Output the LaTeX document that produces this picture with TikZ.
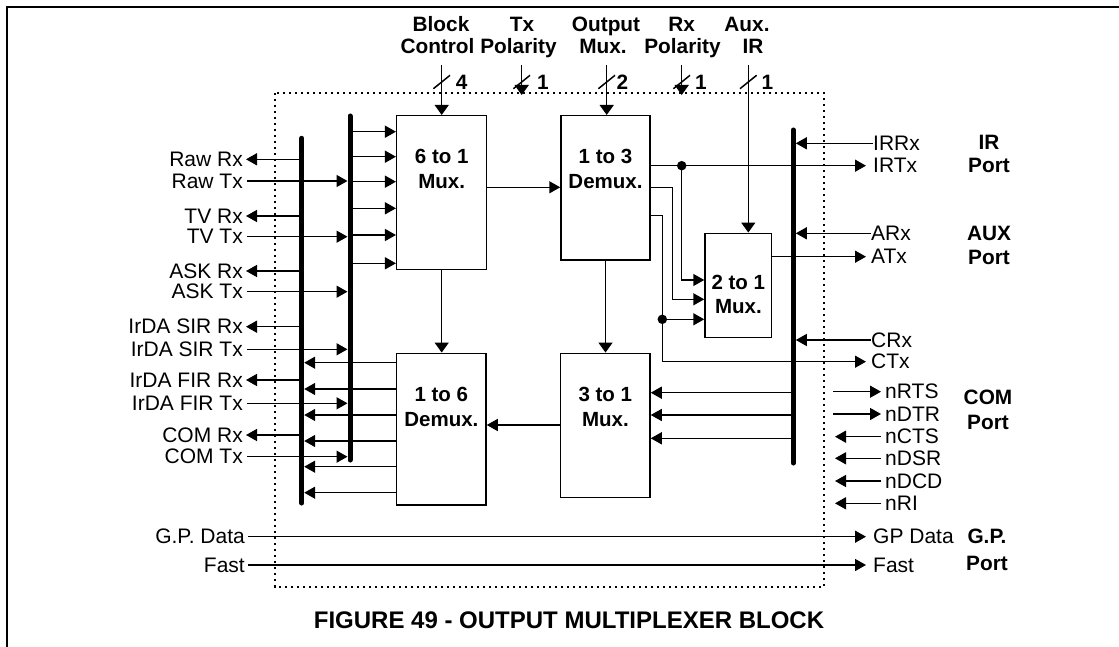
\documentclass[tikz,border=0pt]{standalone}
\usepackage{fontspec}
\setmainfont{Liberation Sans}
\usetikzlibrary{arrows.meta,calc}
\begin{document}
\begin{tikzpicture}[x=1pt,y=-1pt,
  ln/.style={line width=1.5pt},
  arr/.style={line width=1.5pt,-{Triangle[length=11pt,width=12pt]}},
  varr/.style={line width=1.5pt,-{Triangle[length=10pt,width=14pt]}},
  busline/.style={line width=5pt,line cap=round},
  blk/.style={draw,line width=1.5pt,inner sep=0pt},
  lbl/.style={inner sep=0pt,font=\fontsize{21}{25}\selectfont},
  blbl/.style={inner sep=0pt,font=\bfseries\fontsize{20.5}{25}\selectfont},
  tlbl/.style={inner sep=0pt,font=\bfseries\fontsize{20.8}{25}\selectfont},
  dotbox/.style={line width=2.4pt,dash pattern=on 2.4pt off 3.6pt},
  jdot/.style={circle,fill,inner sep=0pt,minimum size=9.5pt}]
\useasboundingbox (0,0) rectangle (1119,647);
% outer frame
\draw[line width=2.6pt] (7,647) -- (7,7) -- (1119,7);
% dotted boundary
\draw[dotbox] (275,93) rectangle (824,587);
% blocks
\node[blk,minimum width=90pt,minimum height=153.6pt] (mux6) at (441.7,192.5) {};
\node[blk,minimum width=89pt,minimum height=144.3pt] (dmx3) at (605.5,187.85) {};
\node[blk,minimum width=66.7pt,minimum height=104.4pt] (mux2) at (738.35,285.5) {};
\node[blk,minimum width=89.3pt,minimum height=144.4pt] (mux3) at (605.35,425.5) {};
\node[blk,minimum width=89.3pt,minimum height=151.7pt] (dmx6) at (441.35,429.15) {};
\node[blbl,anchor=base] (mux6a) at (441.7,164) {6 to 1};
\node[blbl,anchor=base] (mux6b) at (441.7,188.3) {Mux.};
\node[blbl,anchor=base] (dmx3a) at (605.5,164) {1 to 3};
\node[blbl,anchor=base] (dmx3b) at (605.5,188.3) {Demux.};
\node[blbl,anchor=base] (mux2a) at (738.35,289) {2 to 1};
\node[blbl,anchor=base] (mux2b) at (738.35,313) {Mux.};
\node[blbl,anchor=base] (mux3a) at (605.35,401.7) {3 to 1};
\node[blbl,anchor=base] (mux3b) at (605.35,426.7) {Mux.};
\node[blbl,anchor=base] (dmx6a) at (441.35,401.7) {1 to 6};
\node[blbl,anchor=base] (dmx6b) at (441.35,426.7) {Demux.};
% buses
\coordinate (busLt) at (301.7,138.3); \coordinate (busLb) at (301.7,503);
\coordinate (busIt) at (350,116);     \coordinate (busIb) at (350,460);
\coordinate (busRt) at (793.3,130);   \coordinate (busRb) at (793.3,463);
\draw[busline] (busLt) -- (busLb);
\draw[busline] (busIt) -- (busIb);
\draw[busline] (busRt) -- (busRb);
% top labels
\node[tlbl,anchor=base] (tBlock) at (441,32) {Block};
\node[tlbl,anchor=base] (tControl) at (437.5,53.5) {Control};
\node[tlbl,anchor=base] (tTx) at (522,32) {Tx};
\node[tlbl,anchor=base] (tTxPol) at (518.5,53.5) {Polarity};
\node[tlbl,anchor=base] (tOut) at (606,32) {Output};
\node[tlbl,anchor=base] (tOutMux) at (603,53.5) {Mux.};
\node[tlbl,anchor=base] (tRx) at (681.7,32) {Rx};
\node[tlbl,anchor=base] (tRxPol) at (682.5,53.5) {Polarity};
\node[tlbl,anchor=base] (tAux) at (747,32) {Aux.};
\node[tlbl,anchor=base] (tIR) at (753,53.5) {IR};
% top control lines
\coordinate (cBlk) at (441.7,65);
\coordinate (cTxp) at (521.7,65);  \coordinate (eTxp) at (521.7,95);
\coordinate (cOut) at (606.7,65);
\coordinate (cRxp) at (681.7,65);  \coordinate (eRxp) at (681.7,95);
\coordinate (cAux) at (748.3,65);
\draw[varr] (cBlk) -- (cBlk |- mux6.north);
\draw[varr] (cTxp) -- (eTxp);
\draw[varr] (cOut) -- (cOut |- dmx3.north);
\draw[varr] (cRxp) -- (eRxp);
\draw[varr] (cAux) -- (cAux |- mux2.north);
\foreach \sx/\num/\nx [count=\i] in {441.7/4/461.7, 521.7/1/542.8, 606.7/2/622.5, 681.7/1/700.8, 748.3/1/767.5}{
  \coordinate (s\i) at (\sx,82);
  \draw[ln] ([shift={(-8.3,6.7)}]s\i) -- ([shift={(8.3,-6.7)}]s\i);
  \node[tlbl,anchor=base] (n\i) at (\nx,90) {\num};
}
% left side signals
\foreach \n/\lab/\yr/\yt in {raw/Raw/159.3/181, tv/TV/216/236.7, ask/ASK/271/291.7, sir/IrDA SIR/326.7/349.3, fir/IrDA FIR/380/403.3, com/COM/435/456.7}{
  \node[lbl,anchor=east] (\n rx) at (243,\yr) {\lab\ Rx};
  \node[lbl,anchor=east] (\n tx) at (243,\yt) {\lab\ Tx};
  \draw[arr] (busLt |- \n rx) -- ([xshift=3pt]\n rx.east);
  \draw[arr,shorten >=2.5pt] ([xshift=4pt]\n tx.east) -- (busIt |- \n tx);
}
% inner bus to 6 to 1 mux
\foreach \yy in {131.7,156.7,181.7,208.3,235,263.3}{
  \draw[arr] (busIt |- 0,\yy) -- (mux6.west |- 0,\yy);
}
% 1 to 6 demux to left bus
\foreach \yy in {362.7,389,415,441,466.7,492.7}{
  \draw[arr,shorten >=2.5pt] (dmx6.west |- 0,\yy) -- (busLt |- 0,\yy);
}
% internal block connections
\draw[arr] (mux6.east |- 0,187.3) -- (dmx3.west |- 0,187.3);
\draw[varr] (mux6.south) -- (mux6.south |- dmx6.north);
\draw[varr] (dmx3.south) -- (dmx3.south |- mux3.north);
\draw[arr] (mux3.west |- 0,425) -- (dmx6.east |- 0,425);
% right labels
\node[lbl,anchor=west] (irrx) at (873,143.3) {IRRx};
\node[lbl,anchor=west] (irtx) at (873,165.7) {IRTx};
\node[lbl,anchor=west] (arx) at (871,233.3) {ARx};
\node[lbl,anchor=west] (atx) at (871,256.7) {ATx};
\node[lbl,anchor=west] (crx) at (871,340) {CRx};
\node[lbl,anchor=west] (ctx) at (871,361.7) {CTx};
\foreach \n/\lab/\yy in {nrts/nRTS/391.7, ndtr/nDTR/414, ncts/nCTS/436.7, ndsr/nDSR/458.3, ndcd/nDCD/481, nri/nRI/503.3}{
  \node[lbl,anchor=west] (\n) at (885,\yy) {\lab};
}
\draw[arr] ([xshift=-52pt]nrts.west) -- ([xshift=-4pt]nrts.west);
\draw[arr] ([xshift=-52pt]ndtr.west) -- ([xshift=-4pt]ndtr.west);
\foreach \n in {ncts,ndsr,ndcd,nri}{
  \draw[arr] ([xshift=-4pt]\n.west) -- ([xshift=-50pt]\n.west);
}
% port labels
\node[tlbl,anchor=base] (pIR) at (989,150) {IR};
\node[tlbl,anchor=base] (pIRp) at (989,172.7) {Port};
\node[tlbl,anchor=base] (pAUX) at (989,240.7) {AUX};
\node[tlbl,anchor=base] (pAUXp) at (989,264) {Port};
\node[tlbl,anchor=base] (pCOM) at (988,404) {COM};
\node[tlbl,anchor=base] (pCOMp) at (988,429.3) {Port};
\node[tlbl,anchor=base] (pGP) at (987,543.3) {G.P.};
\node[tlbl,anchor=base] (pGPp) at (987,570.7) {Port};
% right bus inputs
\draw[arr,shorten >=2.5pt] (irrx.west) -- (busRt |- irrx);
\draw[arr,shorten >=2.5pt] (arx.west) -- (busRt |- arx);
\draw[arr,shorten >=2.5pt] (crx.west) -- (busRt |- crx);
% right bus to 3 to 1 mux
\foreach \yy in {392.7,415,438.3}{
  \draw[arr] (busRt |- 0,\yy) -- (mux3.east |- 0,\yy);
}
% 1 to 3 demux outputs
\node[jdot] (j1) at (681.7,165.7) {};
\node[jdot] (j2) at (662.3,319.3) {};
\draw[arr] (dmx3.east |- irtx) -- ([xshift=-7pt]irtx.west);
\draw[arr] (j1.center) -- (j1.center |- 0,280) -- (mux2.west |- 0,280);
\draw[arr] (dmx3.east |- 0,187.3) -- (672.3,187.3) -- (672.3,299.3) -- (mux2.west |- 0,299.3);
\draw[arr] (dmx3.east |- 0,215.7) -- (j2.center |- 0,215.7) -- (j2.center |- ctx) -- ([xshift=-5pt]ctx.west);
\draw[arr] (j2.center) -- (mux2.west |- j2);
\draw[arr] (mux2.east |- atx) -- ([xshift=-5pt]atx.west);
% G.P. lines
\node[lbl,anchor=east] (gpdl) at (245,536.7) {G.P. Data};
\node[lbl,anchor=east] (fastl) at (245,565) {Fast};
\node[lbl,anchor=west] (gpdr) at (873,536.7) {GP Data};
\node[lbl,anchor=west] (fastr) at (873,565) {Fast};
\draw[arr] ([xshift=3pt]gpdl.east) -- ([xshift=-7pt]gpdr.west);
\draw[arr] ([xshift=3pt]fastl.east) -- ([xshift=-7pt]fastr.west);
% caption
\node[inner sep=0pt,anchor=base,font=\bfseries\fontsize{24}{28}\selectfont] (caption) at (569,628.3) {FIGURE 49 - OUTPUT MULTIPLEXER BLOCK};
\end{tikzpicture}
\end{document}
